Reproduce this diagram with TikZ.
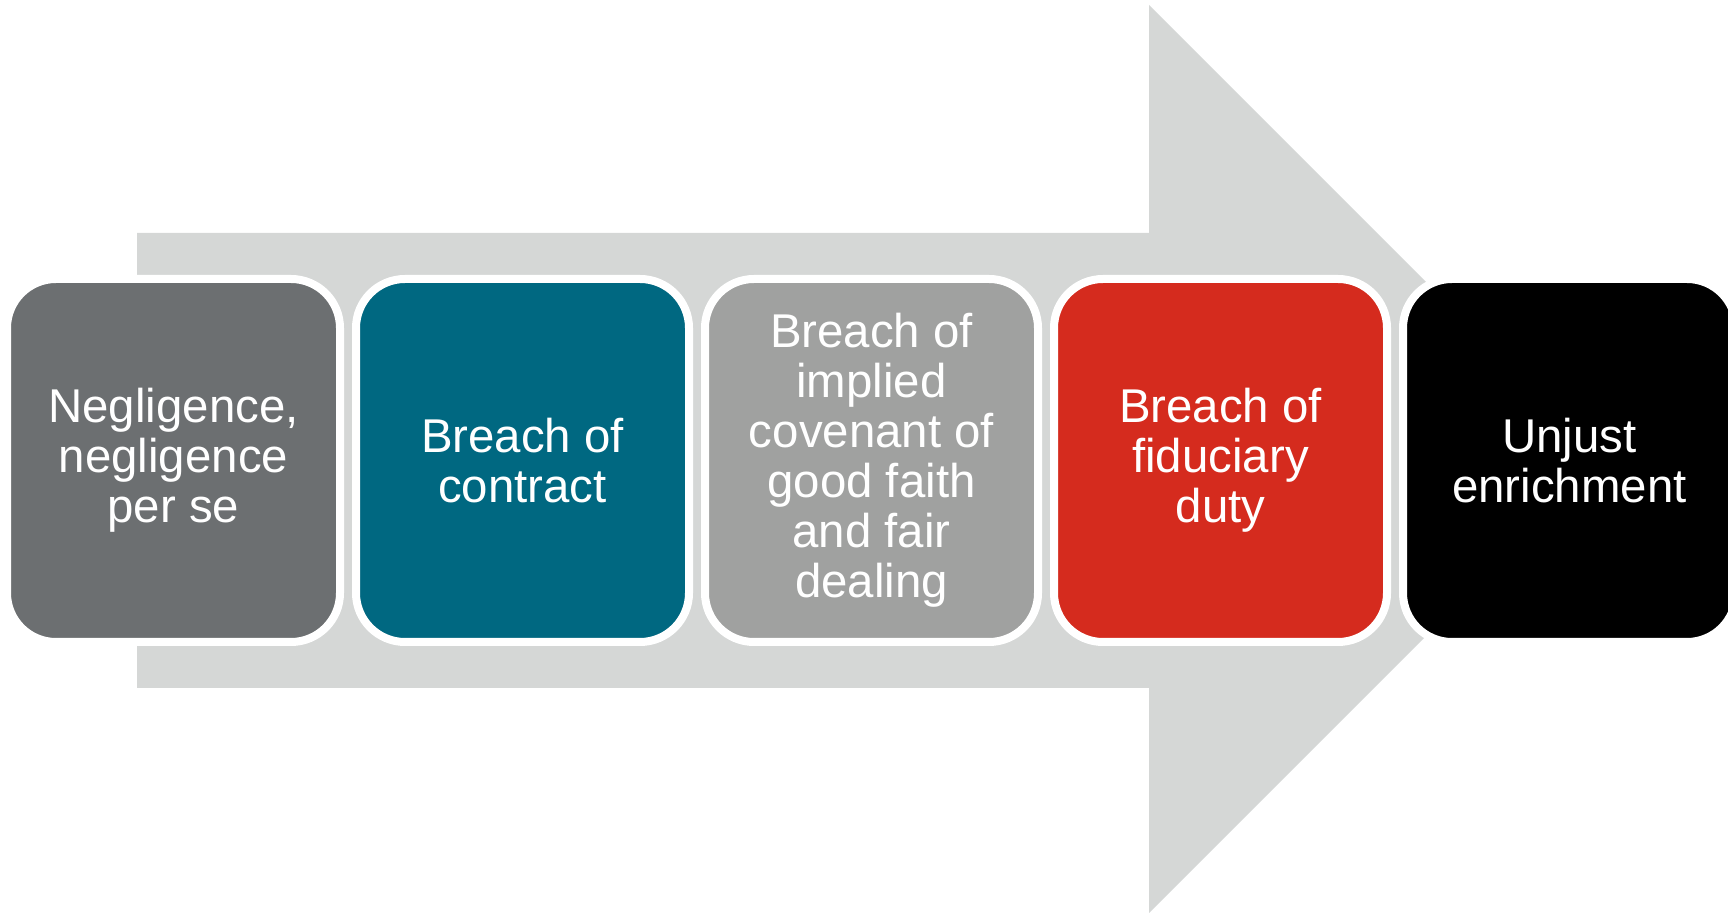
\documentclass[tikz,border=0pt]{standalone}
\usepackage{fontspec}
\setmainfont{Liberation Sans}
\definecolor{arrowgray}{HTML}{D5D7D6}
\definecolor{darkgray}{HTML}{6C6F71}
\definecolor{teal}{HTML}{006881}
\definecolor{midgray}{HTML}{A0A1A0}
\definecolor{brickred}{HTML}{D52B1E}

\tikzset{
  claim/.style={rectangle, rounded corners=24.5pt, draw=white, line width=4pt,
    minimum width=166.5pt, minimum height=181.5pt, inner sep=0pt, outer sep=0pt,
    text=white, align=center, font=\fontsize{23.7}{25}\selectfont}
}

\begin{document}
\begin{tikzpicture}[x=1pt,y=1pt]
\useasboundingbox (0,0) rectangle (864,457);
\fill[arrowgray] (68.5,113) -- (68.5,340.5) -- (574.5,340.5) -- (574.5,454.5)
  -- (801.5,227.5) -- (574.5,0.5) -- (574.5,113) -- cycle;
\foreach \c/\t [count=\i] in {
  darkgray/{Negligence,\\negligence\\per se},
  teal/{Breach of\\contract},
  midgray/{Breach of\\implied\\covenant of\\good faith\\and fair\\dealing},
  brickred/{Breach of\\fiduciary\\duty},
  black/{Unjust\\enrichment}} {
 \node[claim, fill=\c] (claim\i) at (174.5*\i-87.75,226.75) {\t};
}
\end{tikzpicture}
\end{document}
